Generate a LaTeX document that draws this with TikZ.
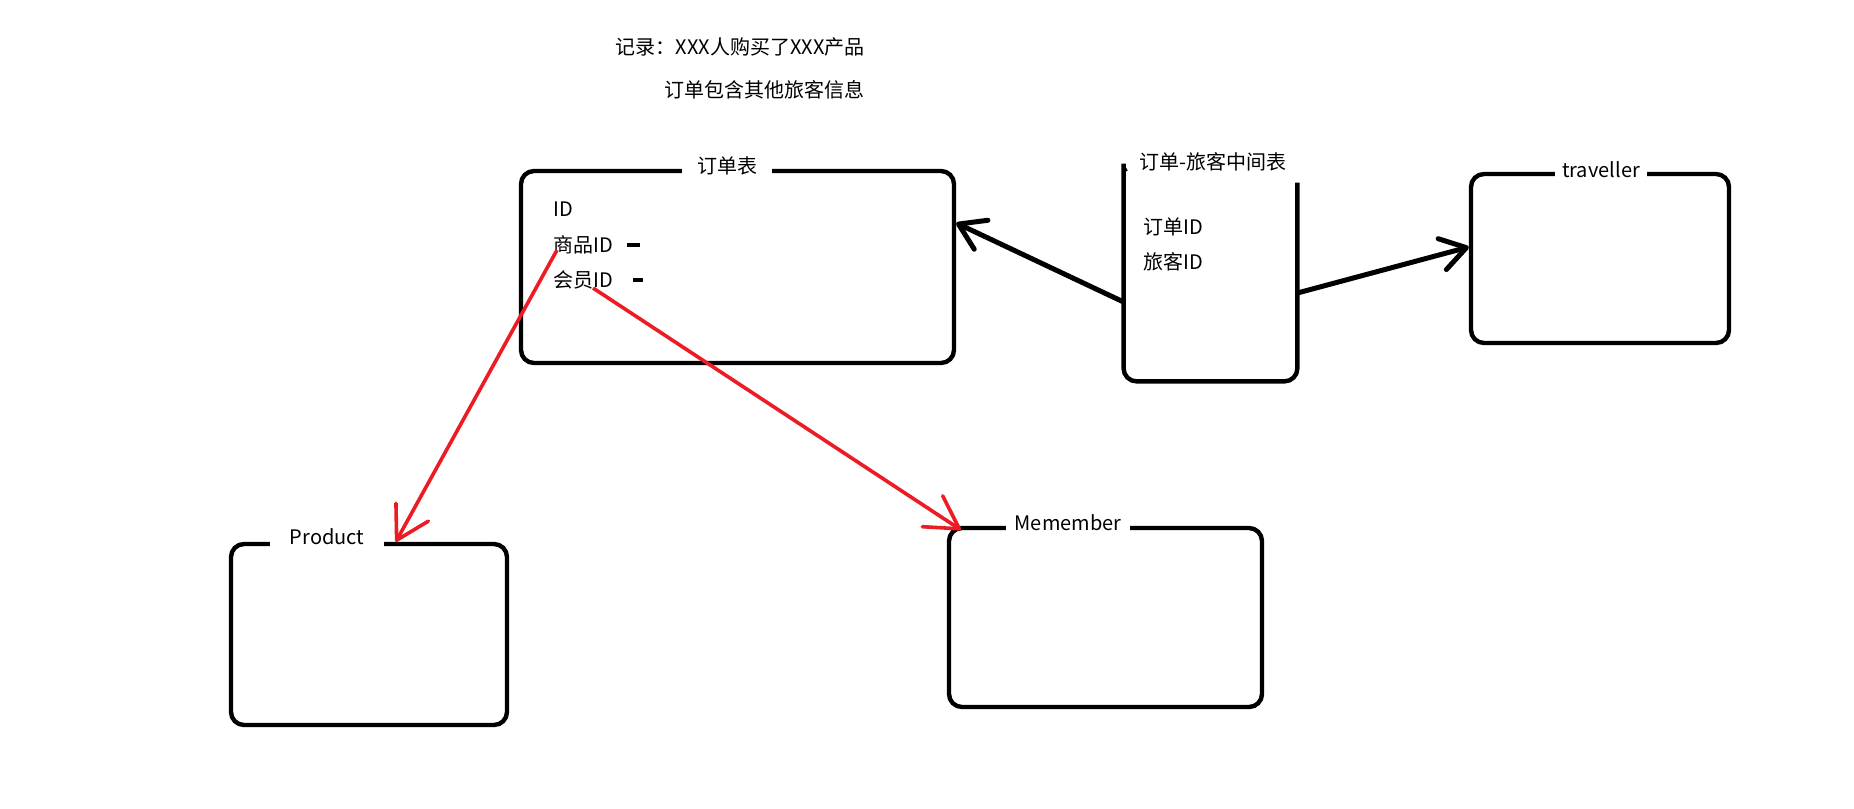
\documentclass[tikz,border=0pt]{standalone}
\usepackage{fontspec}
\setmainfont{Noto Sans CJK SC}
\definecolor{paintred}{RGB}{237,28,36}
\usetikzlibrary{positioning,fit,calc,arrows.meta}

\begin{document}
\begin{tikzpicture}[x=0.5pt,y=-0.5pt,
    tbl/.style={draw,line width=2.2pt,rounded corners=6.5pt,inner sep=0pt},
    ttl/.style={fill=white,inner xsep=5pt,inner ysep=2pt},
    txt/.style={anchor=west,inner sep=0pt},
    blackarrow/.style={line width=2.5pt,-{Straight Barb[length=12.5pt,width=16pt,round]}},
    redarrow/.style={line width=1.8pt,paintred,-{Straight Barb[length=16pt,width=18.5pt,round]}},
    dashbar/.style={line width=2pt}
    ]
    \useasboundingbox (0,0) rectangle (1854,809);

    % notes on top
    \node (note1) [txt,anchor=east] at (865,47) {记录：XXX人购买了XXX产品};
    \node (note2) [txt,anchor=east] at (865,90) {订单包含其他旅客信息};

    % the tables
    \node (order) [tbl,fit={(521,171) (954,363)}] {};
    \node (traveller) [tbl,fit={(1471,174) (1729,343)}] {};
    \node (product) [tbl,fit={(231,544) (507,725)}] {};
    \node (member) [tbl,fit={(949,528) (1262,707)}] {};
    \node (link) [inner sep=0pt,fit={(1124,183) (1297,381)}] {};
    \draw[line width=2.2pt,rounded corners=6.5pt] ([xshift=1.5pt,yshift=7pt]link.north west) to[out=200,in=90] ([yshift=3pt]link.north west) -- (link.south west) -- (link.south east) -- (link.north east);

    % titles
    \node (orderT) [ttl,inner xsep=7.5pt] at (727,166) {订单表};
    \node (travellerT) [ttl,inner xsep=3.5pt] at (1601,170) {traveller};
    \node (productT) [ttl,inner xsep=10pt] at (327,537) {Product};
    \node (memberT) [ttl,inner xsep=4.5pt] at (1068,523) {Memember};
    \node (linkT) at (1213,162) {订单-旅客中间表};

    % fields
    \node (id) [txt] at (553,209) {ID};
    \node (pid) [txt] at (553,245) {商品ID};
    \node (mid) [txt] at (553,280) {会员ID};
    \node (oid) [txt] at (1143,227) {订单ID};
    \node (tid) [txt] at (1143,262) {旅客ID};
    \draw[dashbar] ([xshift=37pt]pid.west) -- +(13,0);
    \draw[dashbar] ([xshift=40pt]mid.west) -- +(10,0);

    % the links
    \draw[blackarrow] ([yshift=-10pt]link.west) -- ([yshift=22pt]order.east);
    \draw[blackarrow] ([yshift=-5.5pt]link.east) -- ([yshift=5.75pt]traveller.west);
    \draw[redarrow] ([xshift=2pt,yshift=-2.5pt]pid.west) -- ([xshift=83.5pt]product.north west);
    \draw[redarrow] ([xshift=20pt,yshift=-4pt]mid.west) -- ([xshift=7pt,yshift=-2pt]member.north west);
\end{tikzpicture}
\end{document}
